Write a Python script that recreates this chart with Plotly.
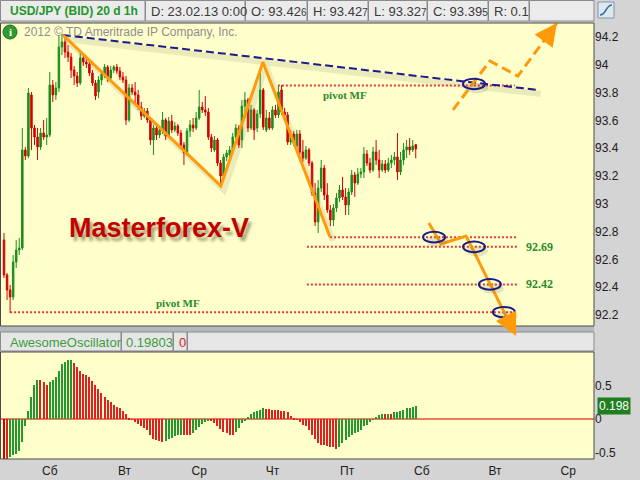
import math
import plotly.graph_objects as go

W, H = 640, 480

# ---- hourly USD/JPY bid bars ------------------------------------------------
opens = [
    92.739, 92.488, 92.380, 92.329, 92.581, 92.667, 92.682, 93.387, 93.344, 93.783,
    93.545, 93.480, 93.409, 93.509, 93.480, 93.495, 93.854, 93.783, 93.833, 94.128,
    94.164, 94.092, 94.056, 93.962, 93.919, 93.869, 94.049, 94.020, 94.006, 93.941,
    93.869, 93.804, 93.890, 93.934, 93.984, 93.905, 93.962, 93.984, 93.955, 93.912,
    93.890, 93.603, 93.833, 93.804, 93.783, 93.696, 93.631, 93.667, 93.603, 93.459,
    93.545, 93.495, 93.531, 93.603, 93.488, 93.595, 93.531, 93.560, 93.509, 93.423,
    93.365, 93.524, 93.567, 93.545, 93.617, 93.696, 93.675, 93.660, 93.480, 93.387,
    93.459, 93.293, 93.200, 93.337, 93.351, 93.387, 93.480, 93.545, 93.459, 93.703,
    93.747, 93.545, 93.675, 93.545, 93.646, 93.819, 93.531, 93.617, 93.545, 93.675,
    93.639, 93.819, 93.660, 93.639, 93.444, 93.502, 93.416, 93.502, 93.373, 93.329,
    93.387, 93.293, 93.077, 92.869, 93.113, 93.257, 93.063, 92.955, 92.883, 92.970,
    93.042, 93.099, 93.049, 92.991, 93.085, 93.207, 93.149, 93.214, 93.229, 93.358,
    93.293, 93.243, 93.373, 93.315, 93.243, 93.286, 93.243, 93.293, 93.315, 93.337,
    93.229, 93.315, 93.387, 93.409, 93.387, 93.426,
]
highs = [
    92.790, 92.502, 92.416, 92.631, 92.739, 92.754, 93.545, 93.409, 93.833, 93.804,
    93.567, 93.545, 93.545, 93.603, 93.617, 93.948, 93.890, 93.876, 94.214, 94.221,
    94.193, 94.142, 94.085, 93.991, 93.948, 94.092, 94.070, 94.056, 94.034, 93.962,
    93.890, 93.919, 93.962, 94.006, 93.998, 93.991, 93.998, 94.006, 93.984, 93.948,
    93.919, 93.862, 93.862, 93.876, 93.819, 93.732, 93.689, 93.689, 93.617, 93.567,
    93.574, 93.552, 93.660, 93.617, 93.624, 93.639, 93.588, 93.574, 93.531, 93.444,
    93.545, 93.603, 93.617, 93.660, 93.819, 93.732, 93.775, 93.689, 93.502, 93.488,
    93.473, 93.315, 93.358, 93.387, 93.416, 93.509, 93.574, 93.567, 93.747, 93.804,
    93.761, 93.711, 93.689, 93.675, 93.948, 93.833, 93.675, 93.660, 93.703, 93.711,
    93.847, 93.854, 93.689, 93.660, 93.531, 93.524, 93.531, 93.531, 93.459, 93.416,
    93.401, 93.308, 93.149, 93.171, 93.315, 93.279, 93.149, 92.991, 92.998, 93.077,
    93.135, 93.193, 93.113, 93.113, 93.243, 93.229, 93.257, 93.257, 93.409, 93.387,
    93.329, 93.409, 93.459, 93.387, 93.315, 93.315, 93.329, 93.351, 93.373, 93.509,
    93.373, 93.437, 93.459, 93.473, 93.459, 93.427,
]
lows = [
    92.466, 92.308, 92.214, 92.308, 92.538, 92.631, 92.667, 93.315, 93.329, 93.387,
    93.423, 93.315, 93.387, 93.459, 93.423, 93.480, 93.732, 93.747, 93.804, 94.070,
    94.049, 94.020, 93.905, 93.854, 93.840, 93.854, 93.991, 93.977, 93.919, 93.847,
    93.747, 93.761, 93.854, 93.905, 93.876, 93.890, 93.941, 93.934, 93.890, 93.869,
    93.567, 93.588, 93.783, 93.725, 93.675, 93.603, 93.617, 93.581, 93.423, 93.351,
    93.459, 93.473, 93.502, 93.459, 93.473, 93.509, 93.516, 93.488, 93.401, 93.279,
    93.344, 93.480, 93.516, 93.531, 93.603, 93.653, 93.631, 93.459, 93.373, 93.373,
    93.272, 93.135, 93.171, 93.308, 93.329, 93.373, 93.444, 93.401, 93.401, 93.617,
    93.516, 93.531, 93.459, 93.516, 93.617, 93.531, 93.516, 93.531, 93.531, 93.617,
    93.617, 93.639, 93.617, 93.423, 93.423, 93.416, 93.401, 93.351, 93.301, 93.315,
    93.272, 93.056, 92.840, 92.790, 93.085, 93.027, 92.934, 92.840, 92.840, 92.941,
    93.013, 93.027, 92.919, 92.919, 93.063, 93.049, 93.135, 93.185, 93.185, 93.272,
    93.221, 93.229, 93.279, 93.185, 93.229, 93.221, 93.229, 93.257, 93.279, 93.171,
    93.207, 93.279, 93.329, 93.351, 93.373, 93.327,
]
closes = [
    92.488, 92.380, 92.329, 92.581, 92.667, 92.682, 93.387, 93.344, 93.797, 93.545,
    93.480, 93.409, 93.509, 93.480, 93.495, 93.854, 93.783, 93.833, 94.128, 94.164,
    94.092, 94.056, 93.962, 93.919, 93.869, 94.049, 94.020, 94.006, 93.941, 93.869,
    93.775, 93.890, 93.934, 93.984, 93.905, 93.962, 93.984, 93.955, 93.912, 93.890,
    93.603, 93.833, 93.804, 93.783, 93.696, 93.631, 93.667, 93.603, 93.459, 93.545,
    93.495, 93.531, 93.603, 93.488, 93.595, 93.531, 93.560, 93.509, 93.423, 93.365,
    93.524, 93.567, 93.545, 93.617, 93.696, 93.675, 93.660, 93.480, 93.401, 93.459,
    93.293, 93.200, 93.337, 93.365, 93.387, 93.480, 93.545, 93.423, 93.703, 93.747,
    93.545, 93.675, 93.531, 93.646, 93.819, 93.552, 93.617, 93.545, 93.675, 93.639,
    93.804, 93.660, 93.639, 93.444, 93.502, 93.437, 93.502, 93.373, 93.329, 93.387,
    93.293, 93.077, 92.869, 93.113, 93.257, 93.063, 92.955, 92.883, 92.970, 93.042,
    93.099, 93.049, 92.991, 93.085, 93.207, 93.149, 93.214, 93.229, 93.358, 93.293,
    93.243, 93.373, 93.315, 93.243, 93.286, 93.243, 93.293, 93.315, 93.337, 93.229,
    93.315, 93.387, 93.409, 93.387, 93.416, 93.395,
]
bar_index = list(range(len(closes)))

# ---- Awesome Oscillator -----------------------------------------------------
ao_values = [
    -0.60, -0.60, -0.57, -0.54, -0.52, -0.48, -0.34, -0.11, 0.12, 0.32,
    0.51, 0.58, 0.58, 0.55, 0.51, 0.55, 0.58, 0.63, 0.72, 0.81,
    0.84, 0.87, 0.88, 0.83, 0.77, 0.72, 0.67, 0.66, 0.62, 0.57,
    0.51, 0.44, 0.38, 0.32, 0.28, 0.25, 0.21, 0.18, 0.17, 0.12,
    0.07, 0.01, -0.01, -0.04, -0.07, -0.10, -0.13, -0.17, -0.24, -0.29,
    -0.31, -0.32, -0.34, -0.33, -0.30, -0.28, -0.25, -0.24, -0.23, -0.23,
    -0.23, -0.23, -0.21, -0.16, -0.12, -0.07, -0.04, -0.02, -0.03, -0.06,
    -0.10, -0.15, -0.19, -0.21, -0.23, -0.23, -0.20, -0.13, -0.06, -0.02,
    0.03, 0.08, 0.11, 0.12, 0.14, 0.16, 0.15, 0.15, 0.14, 0.14,
    0.13, 0.12, 0.12, 0.10, 0.05, 0.02, -0.01, -0.05, -0.09, -0.11,
    -0.16, -0.24, -0.30, -0.35, -0.39, -0.39, -0.40, -0.41, -0.42, -0.44,
    -0.41, -0.36, -0.31, -0.27, -0.24, -0.21, -0.20, -0.17, -0.11, -0.09,
    -0.04, -0.005, 0.03, 0.06, 0.07, 0.07, 0.08, 0.08, 0.10, 0.11,
    0.12, 0.13, 0.16, 0.17, 0.18, 0.19803,
]
ao_last = 0.19803

# ---- axes -------------------------------------------------------------------
day_ticks = [15, 39.5, 64, 88, 112.5, 137, 161, 185]
day_labels = ["Сб", "Вт", "Ср", "Чт", "Пт", "Сб", "Вт", "Ср"]
price_ticks = [92.2, 92.4, 92.6, 92.8, 93.0, 93.2, 93.4, 93.6, 93.8, 94.0, 94.2]
price_labels = ["92.2", "92.4", "92.6", "92.8", "93", "93.2", "93.4", "93.6",
                "93.8", "94", "94.2"]
ao_ticks = [-0.5, 0, 0.5]
ao_labels = ["-0.5", "0", "0.5"]

# ---- analysis drawn over the price chart (bar index, price) -----------------
trend_bars = [19.3, 175.0]
trend_prices = [94.214, 93.819]
wave_bars = [19.3, 71.1, 84.9, 106.9]
wave_prices = [94.214, 93.128, 94.020, 92.761]
pivot_levels = [93.85, 92.76, 92.69, 92.42, 92.22]
pivot_from = [89.8, 106.9, 99.3, 99.3, 2.0]
pivot_to = [167.5, 168.5, 168.5, 168.5, 168.5]
ring_bars = [154.1, 141.0, 154.1, 159.3, 163.9]
ring_prices = [93.862, 92.76, 92.69, 92.42, 92.22]
down_bars = [139.3, 143.3, 151.5, 167.9]
down_prices = [92.862, 92.711, 92.768, 92.049]
up_bars = [147.2, 159.3, 168.5, 181.3]
up_prices = [93.675, 94.027, 93.919, 94.301]

# ---- screen layout helpers (pixels -> paper) --------------------------------
def px(x):
    return x / W


def py(y):
    return 1 - y / H


PLOT_L, PLOT_R = 1, 594
MAIN_T, MAIN_B = 23, 326
AO_T, AO_B = 352, 459
X_RANGE = [-0.984, 193.44]
Y_RANGE = [92.1207, 94.3005]


def to_screen(b, p):
    """Bar index / price -> pixel position, using the price pane's axis ranges."""
    x = PLOT_L + (b - X_RANGE[0]) / (X_RANGE[1] - X_RANGE[0]) * (PLOT_R - PLOT_L)
    y = MAIN_B - (p - Y_RANGE[0]) / (Y_RANGE[1] - Y_RANGE[0]) * (MAIN_B - MAIN_T)
    return x, y


GREEN = "#1c8c1c"
RED = "#d40000"
NAVY = "#1b1b8a"
ORANGE = "#ff9a0a"
UI_FONT = "Liberation Sans, Arial, sans-serif"

fig = go.Figure()

# candles
fig.add_trace(go.Candlestick(
    x=bar_index, open=opens, high=highs, low=lows, close=closes,
    increasing=dict(line=dict(color=GREEN, width=1), fillcolor=GREEN),
    decreasing=dict(line=dict(color=RED, width=1), fillcolor=RED),
    whiskerwidth=0, hoverinfo="skip", xaxis="x", yaxis="y",
))

# soft shadows under the hand-drawn lines
shadow = "rgba(130,130,90,0.16)"
fig.add_trace(go.Scatter(
    x=[b + 1.0 for b in trend_bars], y=[p - 0.03 for p in trend_prices],
    mode="lines", line=dict(color=shadow, width=6), hoverinfo="skip"))
fig.add_trace(go.Scatter(
    x=[b + 1.0 for b in wave_bars], y=[p - 0.03 for p in wave_prices],
    mode="lines", line=dict(color=shadow, width=6), hoverinfo="skip"))

# pivot levels (red dotted)
for lvl, a, b in zip(pivot_levels, pivot_from, pivot_to):
    fig.add_trace(go.Scatter(
        x=[a, b], y=[lvl, lvl], mode="lines",
        line=dict(color="#e23a3a", width=2, dash="2px,2px"), hoverinfo="skip"))

# descending resistance (navy dashed)
fig.add_trace(go.Scatter(
    x=trend_bars, y=trend_prices, mode="lines",
    line=dict(color=NAVY, width=2, dash="8px,4px"), hoverinfo="skip"))

# wave sketch (orange solid)
fig.add_trace(go.Scatter(
    x=wave_bars, y=wave_prices, mode="lines",
    line=dict(color=ORANGE, width=3), hoverinfo="skip"))

# bearish scenario path
fig.add_trace(go.Scatter(
    x=down_bars, y=down_prices, mode="lines",
    line=dict(color=ORANGE, width=3), hoverinfo="skip"))

# bullish scenario path (dashed)
fig.add_trace(go.Scatter(
    x=up_bars, y=up_prices, mode="lines",
    line=dict(color=ORANGE, width=3, dash="10px,5px"), hoverinfo="skip"))

# Awesome Oscillator histogram
ao_colors = [RED]
for prev, cur in zip(ao_values[:-1], ao_values[1:]):
    ao_colors.append("#22992a" if cur > prev else "#dd2020")
fig.add_trace(go.Bar(
    x=bar_index, y=ao_values, marker=dict(color=ao_colors, line=dict(width=0)),
    width=0.4, xaxis="x2", yaxis="y2", hoverinfo="skip"))

shapes = []
annotations = []

# window chrome: header row
header_cells = [(0, 145), (145, 245), (245, 307), (307, 368), (368, 427),
                (427, 488), (488, 529), (529, 594)]
for a, b in header_cells:
    shapes.append(dict(type="rect", xref="paper", yref="paper",
                       x0=px(a + 0.5), x1=px(b), y0=py(0.5), y1=py(21),
                       fillcolor="#ebebeb", line=dict(color="#8a8a8a", width=1)))
header_texts = [
    (8, "<b>USD/JPY (BID) 20 d 1h</b>", "#23962a", 12),
    (149, "D: 23.02.13 0:00", "#3a3a3a", 13),
    (249, "O: 93.42<span style='font-size:10px'>6</span>", "#3a3a3a", 13),
    (311, "H: 93.42<span style='font-size:10px'>7</span>", "#3a3a3a", 13),
    (372, "L: 93.32<span style='font-size:10px'>7</span>", "#3a3a3a", 13),
    (431, "C: 93.39<span style='font-size:10px'>5</span>", "#3a3a3a", 13),
    (492, "R: 0.1", "#3a3a3a", 13),
]
for x, t, c, s in header_texts:
    annotations.append(dict(xref="paper", yref="paper", x=px(x), y=py(11),
                            xanchor="left", yanchor="middle", text=t,
                            showarrow=False, font=dict(family=UI_FONT, size=s, color=c)))

# small chart-type icon in the corner
shapes.append(dict(type="rect", xref="paper", yref="paper",
                   x0=px(598), x1=px(614), y0=py(18), y1=py(2),
                   fillcolor="#dfe8f0", line=dict(color="#7f94aa", width=1)))
shapes.append(dict(type="path", xref="paper", yref="paper",
                   path=f"M {px(600)} {py(15)} C {px(606)} {py(15)}, {px(606)} {py(5)}, {px(612)} {py(5)}",
                   line=dict(color="#3a6ea8", width=1.5)))

# separator between price pane and oscillator pane
shapes.append(dict(type="rect", xref="paper", yref="paper",
                   x0=px(0), x1=px(594), y0=py(332), y1=py(326),
                   fillcolor="#b4b9bf", line=dict(width=0), layer="below"))
# oscillator header
osc_cells = [(0, 121), (121, 173), (173, 187), (187, 594)]
for a, b in osc_cells:
    shapes.append(dict(type="rect", xref="paper", yref="paper",
                       x0=px(a + 0.5), x1=px(b), y0=py(351), y1=py(332),
                       fillcolor="#e6e6e6", line=dict(color="#8a8a8a", width=1)))
osc_texts = [(8, "AwesomeOscillator", "#3c9c3c"), (124, "0.19803", "#3c9c3c"),
             (177, "0", "#e02020")]
for x, t, c in osc_texts:
    annotations.append(dict(xref="paper", yref="paper", x=px(x), y=py(342),
                            xanchor="left", yanchor="middle", text=t,
                            showarrow=False, font=dict(family=UI_FONT, size=13, color=c)))

# pane borders
for top, bot in [(MAIN_T, MAIN_B), (AO_T, AO_B)]:
    shapes.append(dict(type="rect", xref="paper", yref="paper",
                       x0=px(0.5), x1=px(594), y0=py(bot), y1=py(top),
                       line=dict(color="#4a4a4a", width=1)))

# rings marking key touches
for b, p in zip(ring_bars, ring_prices):
    shapes.append(dict(type="circle", xref="x", yref="y",
                       x0=b - 2.6, x1=b + 4.6, y0=p - 0.068, y1=p + 0.008,
                       fillcolor="rgba(110,110,70,0.18)", line=dict(width=0)))
    shapes.append(dict(type="circle", xref="x", yref="y",
                       x0=b - 3.6, x1=b + 3.6, y0=p - 0.038, y1=p + 0.038,
                       line=dict(color=NAVY, width=2)))

# arrow heads at the ends of both scenario paths (drawn unclipped)
for bars, prices in [(down_bars, down_prices), (up_bars, up_prices)]:
    x0, y0 = to_screen(bars[-2], prices[-2])
    x1, y1 = to_screen(bars[-1], prices[-1])
    d = math.hypot(x1 - x0, y1 - y0)
    ux, uy = (x1 - x0) / d, (y1 - y0) / d
    tail = 13
    annotations.append(dict(xref="paper", yref="paper", x=px(x1), y=py(y1),
                            ax=-ux * tail, ay=-uy * tail, text="",
                            showarrow=True, arrowhead=2, arrowsize=1.5,
                            arrowwidth=3, arrowcolor=ORANGE, standoff=0))

# copyright line with info badge
shapes.append(dict(type="circle", xref="paper", yref="paper",
                   x0=px(3), x1=px(17), y0=py(39), y1=py(25),
                   fillcolor="#2f9a2f", line=dict(color="#1c6e1c", width=1)))
annotations.append(dict(xref="paper", yref="paper", x=px(10), y=py(32),
                        xanchor="center", yanchor="middle",
                        text="<b>i</b>", showarrow=False,
                        font=dict(family="Liberation Serif", size=11, color="white")))
annotations.append(dict(xref="paper", yref="paper", x=px(22), y=py(32),
                        xanchor="left", yanchor="middle",
                        text="2012 © TD Ameritrade IP Company, Inc.", showarrow=False,
                        font=dict(family=UI_FONT, size=12, color="#8e8e8e")))

# brand caption
annotations.append(dict(xref="paper", yref="paper", x=px(159), y=py(228),
                        xanchor="center", yanchor="middle",
                        text="<b>Masterforex-V</b>", showarrow=False,
                        font=dict(family=UI_FONT, size=27, color="#c50000",
                                  shadow="3px 4px 3px rgba(90,90,50,0.55)")))

# pivot captions
label_font = dict(family="Liberation Serif, serif", size=12, color="#2a8a2a")
annotations.append(dict(xref="x", yref="y", x=111.8, y=pivot_levels[0], yshift=-9,
                        xanchor="center", yanchor="middle",
                        text="<b>pivot MF</b>", showarrow=False,
                        font=dict(label_font, size=11)))
annotations.append(dict(xref="x", yref="y", x=57.0, y=pivot_levels[4], yshift=9,
                        xanchor="center", yanchor="middle",
                        text="<b>pivot MF</b>", showarrow=False,
                        font=dict(label_font, size=11)))
for lvl in (pivot_levels[2], pivot_levels[3]):
    annotations.append(dict(xref="x", yref="y", x=175.7, y=lvl,
                            xanchor="center", yanchor="middle",
                            text=f"<b>{lvl:.2f}</b>", showarrow=False, font=label_font))

# current oscillator value badge
annotations.append(dict(xref="paper", yref="y2", x=px(597), y=ao_last,
                        xanchor="left", yanchor="middle", text=f"{ao_last:.3f}",
                        showarrow=False, bgcolor="#1f7f1f", borderpad=1,
                        font=dict(family=UI_FONT, size=12, color="white")))

tick_font = dict(family=UI_FONT, size=12, color="#202020")
fig.update_layout(
    width=W, height=H, margin=dict(l=0, r=0, t=0, b=0),
    paper_bgcolor="#d4d4d4", plot_bgcolor="#ffffcc",
    showlegend=False, hovermode=False, bargap=0,
    xaxis=dict(domain=[px(PLOT_L), px(PLOT_R)], range=X_RANGE, anchor="y",
               showticklabels=False, showgrid=False, zeroline=False,
               rangeslider=dict(visible=False), fixedrange=True),
    yaxis=dict(domain=[py(MAIN_B), py(MAIN_T)], range=Y_RANGE,
               anchor="x", side="right", tickvals=price_ticks, ticktext=price_labels,
               ticks="", showgrid=False, zeroline=False, tickfont=tick_font,
               fixedrange=True),
    xaxis2=dict(domain=[px(PLOT_L), px(PLOT_R)], range=X_RANGE, anchor="y2",
                tickvals=day_ticks, ticktext=day_labels, ticks="",
                ticklabelstandoff=3,
                showgrid=False, zeroline=False, tickfont=tick_font, fixedrange=True),
    yaxis2=dict(domain=[py(AO_B), py(AO_T)], range=[-0.594, 0.9955],
                anchor="x2", side="right", tickvals=ao_ticks, ticktext=ao_labels,
                ticks="", showgrid=False, zeroline=True, zerolinecolor="#f27a5c",
                zerolinewidth=1.5, tickfont=tick_font, fixedrange=True),
    shapes=shapes, annotations=annotations,
)

fig.write_html("out.html")
